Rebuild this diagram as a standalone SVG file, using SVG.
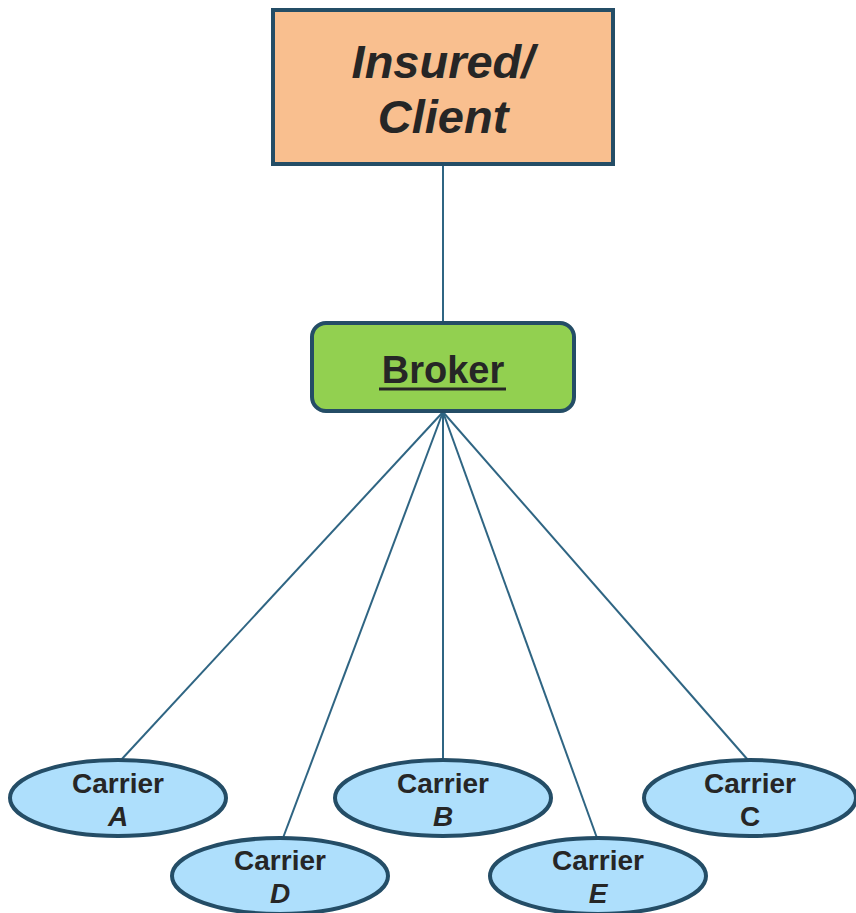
<svg xmlns="http://www.w3.org/2000/svg" width="856" height="913" viewBox="0 0 856 913">
<style>
.edge{stroke:#2f6583;stroke-width:2;fill:none}
.bd{stroke:#244d66;stroke-width:4}
.t{font-family:"Liberation Sans",Arial,sans-serif;font-weight:bold;fill:#262626;text-anchor:middle}
.car{fill:#aedffc}
.ct{font-size:28px}
.lt{font-size:28px;font-style:italic}
</style>
<rect width="856" height="913" fill="#ffffff"/>
<g id="connectors">
<line class="edge" x1="443" y1="165" x2="443" y2="322"/>
<line class="edge" x1="443" y1="412" x2="121" y2="760"/>
<line class="edge" x1="443" y1="412" x2="283" y2="838"/>
<line class="edge" x1="443" y1="412" x2="443" y2="760"/>
<line class="edge" x1="443" y1="412" x2="597" y2="838"/>
<line class="edge" x1="443" y1="412" x2="748" y2="760"/>
</g>
<g id="insured">
<rect class="bd" x="273" y="10" width="340" height="154" fill="#f9bf8f"/>
<text class="t" x="443" y="78" font-size="47" font-style="italic">Insured/</text>
<text class="t" x="443" y="133" font-size="47" font-style="italic">Client</text>
</g>
<g id="broker">
<rect class="bd" x="312" y="323" width="262" height="88" rx="14" fill="#92d050"/>
<text class="t" x="443" y="383" font-size="38">Broker</text>
<line x1="379" y1="389" x2="506" y2="389" stroke="#262626" stroke-width="3"/>
</g>
<g id="carrierA">
<ellipse class="car bd" cx="118" cy="798" rx="108" ry="38"/>
<text class="t ct" x="118" y="793">Carrier</text>
<text class="t lt" x="118" y="826">A</text>
</g>
<g id="carrierB">
<ellipse class="car bd" cx="443" cy="798" rx="108" ry="38"/>
<text class="t ct" x="443" y="793">Carrier</text>
<text class="t lt" x="443" y="826">B</text>
</g>
<g id="carrierC">
<ellipse class="car bd" cx="750" cy="798" rx="106" ry="38"/>
<text class="t ct" x="750" y="793">Carrier</text>
<text class="t ct" x="750" y="826">C</text>
</g>
<g id="carrierD">
<ellipse class="car bd" cx="280" cy="876" rx="108" ry="38"/>
<text class="t ct" x="280" y="870">Carrier</text>
<text class="t lt" x="280" y="903">D</text>
</g>
<g id="carrierE">
<ellipse class="car bd" cx="598" cy="876" rx="108" ry="38"/>
<text class="t ct" x="598" y="870">Carrier</text>
<text class="t lt" x="598" y="903">E</text>
</g>
</svg>
